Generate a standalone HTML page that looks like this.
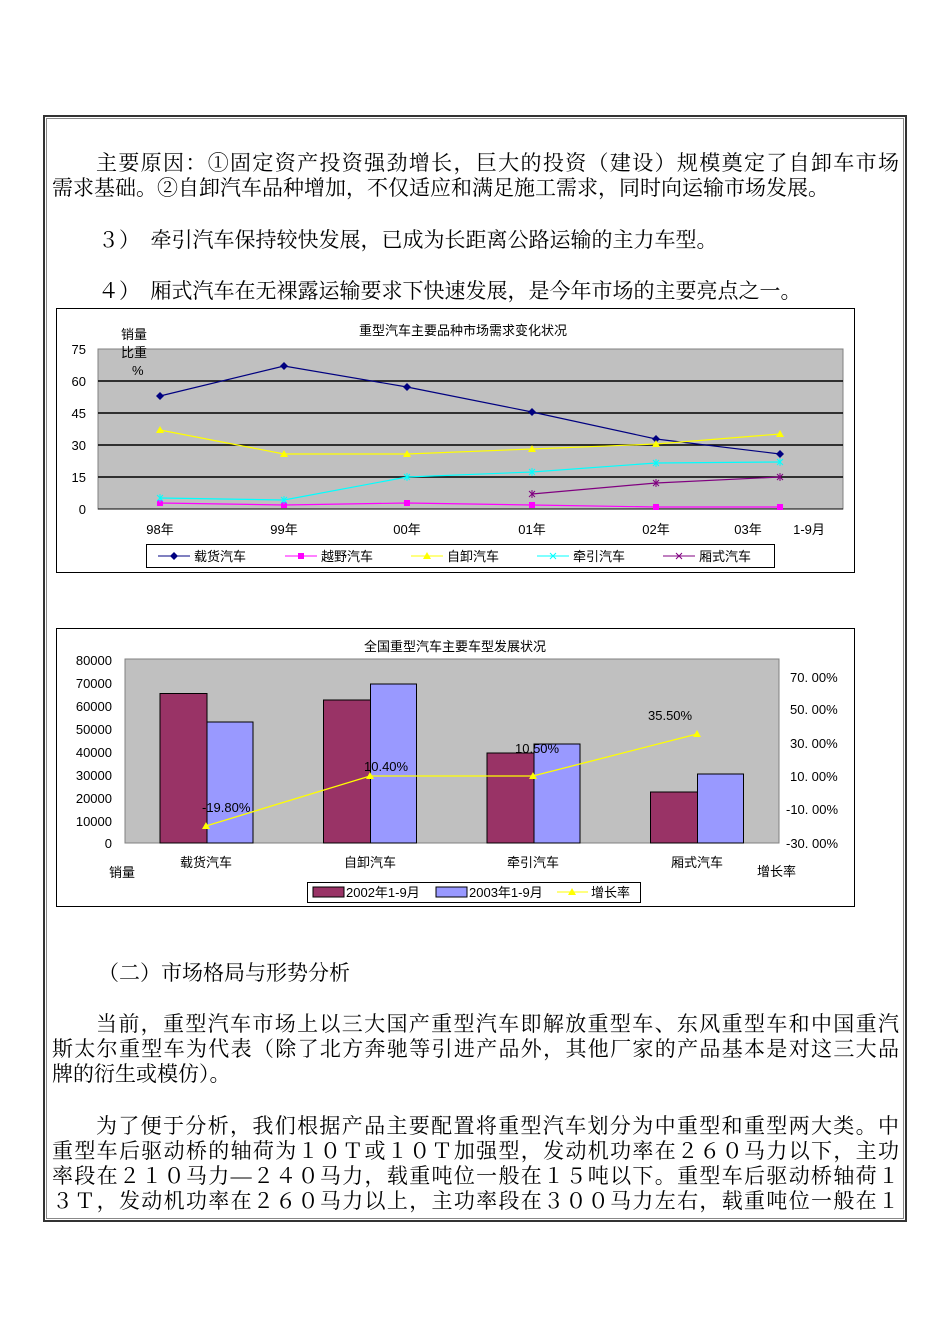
<!DOCTYPE html>
<html><head><meta charset="utf-8"><style>
body{margin:0;background:#fff;}
#p{position:relative;width:950px;height:1344px;overflow:hidden;font-family:"Liberation Serif","Noto Serif CJK SC",serif;}
.l{position:absolute;height:26px;line-height:26px;font-size:21px;white-space:nowrap;color:#000;}
.j{text-align:justify;text-align-last:justify;}
svg text{font-family:"Liberation Sans","Noto Sans CJK SC",sans-serif;font-size:13px;fill:#000;}
</style></head><body><div id="p">
<div style="position:absolute;left:43px;top:115px;width:860px;height:1103px;border:2px solid #333;"></div>
<div style="position:absolute;left:46px;top:118px;width:856px;height:1099px;border:1px solid #888;"></div>

<div class="l j" style="left:96px;top:150px;width:803px">主要原因：①固定资产投资强劲增长，巨大的投资（建设）规模奠定了自卸车市场</div>
<div class="l" style="left:52px;top:175px">需求基础。②自卸汽车品种增加，不仅适应和满足施工需求，同时向运输市场发展。</div>
<div class="l" style="left:98px;top:227px">３）　牵引汽车保持较快发展，已成为长距离公路运输的主力车型。</div>
<div class="l" style="left:98px;top:278px">４）　厢式汽车在无裸露运输要求下快速发展，是今年市场的主要亮点之一。</div>

<svg style="position:absolute;left:0;top:0" width="950" height="1344">
<rect x="56.5" y="308.5" width="798" height="264" fill="#fff" stroke="#000"/>
<rect x="98" y="349" width="745" height="160" fill="#c0c0c0" stroke="#808080"/>
<g stroke="#000" stroke-width="1.5"><line x1="98" y1="381" x2="843" y2="381"/><line x1="98" y1="413" x2="843" y2="413"/><line x1="98" y1="445" x2="843" y2="445"/><line x1="98" y1="477" x2="843" y2="477"/></g>
<line x1="98" y1="509" x2="843" y2="509" stroke="#000"/>
<text x="463" y="335" text-anchor="middle">重型汽车主要品种市场需求变化状况</text>
<text x="121" y="339">销量</text><text x="121" y="357">比重</text><text x="132" y="375" font-size="11">%</text>
<g text-anchor="end"><text x="86" y="354">75</text><text x="86" y="386">60</text><text x="86" y="418">45</text><text x="86" y="450">30</text><text x="86" y="482">15</text><text x="86" y="514">0</text></g>
<g text-anchor="middle"><text x="160" y="534">98年</text><text x="284" y="534">99年</text><text x="407" y="534">00年</text><text x="532" y="534">01年</text><text x="656" y="534">02年</text><text x="748" y="534">03年</text><text x="809" y="534">1-9月</text></g>
<polyline points="160,396 284,366 407,387 532,412 656,439 780,454" fill="none" stroke="#000080" stroke-width="1.2"/>
<g fill="#000080"><path d="M160,392l4,4-4,4-4-4z"/><path d="M284,362l4,4-4,4-4-4z"/><path d="M407,383l4,4-4,4-4-4z"/><path d="M532,408l4,4-4,4-4-4z"/><path d="M656,435l4,4-4,4-4-4z"/><path d="M780,450l4,4-4,4-4-4z"/></g>
<polyline points="160,503 284,505 407,503 532,505 656,507 780,507" fill="none" stroke="#ff00ff" stroke-width="1.2"/>
<g fill="#ff00ff"><rect x="157" y="500" width="6" height="6"/><rect x="281" y="502" width="6" height="6"/><rect x="404" y="500" width="6" height="6"/><rect x="529" y="502" width="6" height="6"/><rect x="653" y="504" width="6" height="6"/><rect x="777" y="504" width="6" height="6"/></g>
<polyline points="160,430 284,454 407,454 532,449 656,444 780,434" fill="none" stroke="#ffff00" stroke-width="1.2"/>
<g fill="#ffff00"><path d="M160,426l4,7h-8z"/><path d="M284,450l4,7h-8z"/><path d="M407,450l4,7h-8z"/><path d="M532,445l4,7h-8z"/><path d="M656,440l4,7h-8z"/><path d="M780,430l4,7h-8z"/></g>
<polyline points="160,498 284,500 407,477 532,472 656,463 780,462" fill="none" stroke="#00ffff" stroke-width="1.2"/>
<g stroke="#00ffff"><path d="M157,495l6,6M163,495l-6,6M160,494v8M281,497l6,6M287,497l-6,6M284,496v8M404,474l6,6M410,474l-6,6M407,473v8M529,469l6,6M535,469l-6,6M532,468v8M653,460l6,6M659,460l-6,6M656,459v8M777,459l6,6M783,459l-6,6M780,458v8"/></g>
<polyline points="532,494 656,483 780,477" fill="none" stroke="#800080" stroke-width="1.2"/>
<g stroke="#800080"><path d="M529,491l6,6M535,491l-6,6M532,490v8M653,480l6,6M659,480l-6,6M656,479v8M777,474l6,6M783,474l-6,6M780,473v8"/></g>
<rect x="146.5" y="544.5" width="628" height="23" fill="#fff" stroke="#000"/>
<line x1="158" y1="556" x2="190" y2="556" stroke="#000080"/><path d="M174,552l4,4-4,4-4-4z" fill="#000080"/><text x="194" y="561">载货汽车</text>
<line x1="285" y1="556" x2="317" y2="556" stroke="#ff00ff"/><rect x="298" y="553" width="6" height="6" fill="#ff00ff"/><text x="321" y="561">越野汽车</text>
<line x1="411" y1="556" x2="443" y2="556" stroke="#ffff00"/><path d="M427,552l4,7h-8z" fill="#ffff00"/><text x="447" y="561">自卸汽车</text>
<line x1="537" y1="556" x2="569" y2="556" stroke="#00ffff"/><path d="M550,553l6,6M556,553l-6,6" stroke="#00ffff"/><text x="573" y="561">牵引汽车</text>
<line x1="663" y1="556" x2="695" y2="556" stroke="#800080"/><path d="M676,553l6,6M682,553l-6,6" stroke="#800080"/><text x="699" y="561">厢式汽车</text>

<rect x="56.5" y="628.5" width="798" height="278" fill="#fff" stroke="#000"/>
<rect x="125" y="659" width="654" height="184" fill="#c0c0c0" stroke="#808080"/>
<text x="455" y="651" text-anchor="middle">全国重型汽车主要车型发展状况</text>
<g text-anchor="end" font-size="12"><text x="112" y="665">80000</text><text x="112" y="688">70000</text><text x="112" y="711">60000</text><text x="112" y="734">50000</text><text x="112" y="757">40000</text><text x="112" y="780">30000</text><text x="112" y="803">20000</text><text x="112" y="826">10000</text><text x="112" y="848">0</text></g>
<g font-size="12"><text x="790" y="682">70. 00%</text><text x="790" y="714">50. 00%</text><text x="790" y="748">30. 00%</text><text x="790" y="781">10. 00%</text><text x="786" y="814">-10. 00%</text><text x="786" y="848">-30. 00%</text></g>
<g fill="#993366" stroke="#000"><rect x="160" y="693.5" width="47" height="149.5"/><rect x="323.5" y="700" width="47" height="143"/><rect x="487" y="753" width="47" height="90"/><rect x="650.5" y="792" width="47" height="51"/></g>
<g fill="#9999ff" stroke="#000"><rect x="207" y="722" width="46" height="121"/><rect x="370.5" y="684" width="46" height="159"/><rect x="534" y="744" width="46" height="99"/><rect x="697.5" y="774" width="46" height="69"/></g>
<polyline points="206,826 370,776 533,776 697,734" fill="none" stroke="#ffff00" stroke-width="1.3"/>
<g fill="#ffff00"><path d="M206,822l4,7h-8z"/><path d="M370,772l4,7h-8z"/><path d="M533,772l4,7h-8z"/><path d="M697,730l4,7h-8z"/></g>
<g font-size="12"><text x="202" y="812">-19.80%</text><text x="364" y="771">10.40%</text><text x="515" y="753">10.50%</text><text x="648" y="720">35.50%</text></g>
<g text-anchor="middle"><text x="206" y="867">载货汽车</text><text x="370" y="867">自卸汽车</text><text x="533" y="867">牵引汽车</text><text x="697" y="867">厢式汽车</text></g>
<text x="109" y="877">销量</text><text x="757" y="876">增长率</text>
<rect x="307.5" y="882.5" width="333" height="20" fill="#fff" stroke="#000"/>
<rect x="313" y="887" width="31" height="10" fill="#993366" stroke="#000"/><text x="346" y="897" font-size="12">2002年1-9月</text>
<rect x="436" y="887" width="31" height="10" fill="#9999ff" stroke="#000"/><text x="469" y="897" font-size="12">2003年1-9月</text>
<line x1="557" y1="892" x2="588" y2="892" stroke="#ffff00"/><path d="M572,888l4,7h-8z" fill="#ffff00"/><text x="591" y="897">增长率</text>
</svg>

<div class="l" style="left:98px;top:960px">（二）市场格局与形势分析</div>
<div class="l j" style="left:96px;top:1011px;width:803px">当前，重型汽车市场上以三大国产重型汽车即解放重型车、东风重型车和中国重汽</div>
<div class="l j" style="left:52px;top:1036px;width:847px">斯太尔重型车为代表（除了北方奔驰等引进产品外，其他厂家的产品基本是对这三大品</div>
<div class="l" style="left:52px;top:1061px">牌的衍生或模仿）。</div>
<div class="l j" style="left:96px;top:1113px;width:803px">为了便于分析，我们根据产品主要配置将重型汽车划分为中重型和重型两大类。中</div>
<div class="l j" style="left:52px;top:1138px;width:847px">重型车后驱动桥的轴荷为１０Ｔ或１０Ｔ加强型，发动机功率在２６０马力以下，主功</div>
<div class="l j" style="left:52px;top:1163px;width:847px">率段在２１０马力—２４０马力，载重吨位一般在１５吨以下。重型车后驱动桥轴荷１</div>
<div class="l j" style="left:52px;top:1188px;width:847px">３Ｔ，发动机功率在２６０马力以上，主功率段在３００马力左右，载重吨位一般在１</div>
</div></body></html>
